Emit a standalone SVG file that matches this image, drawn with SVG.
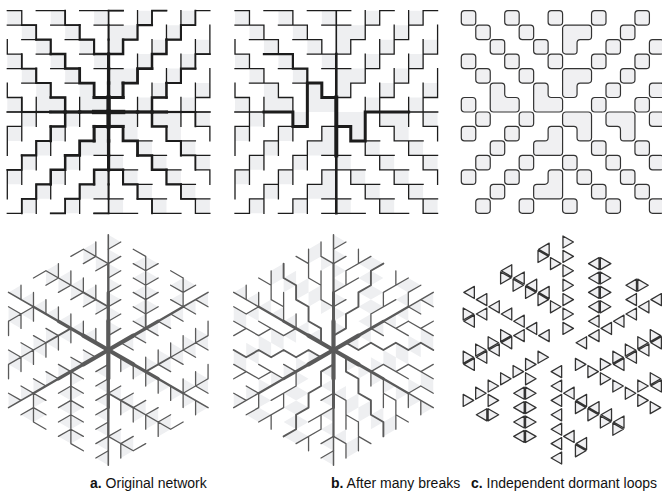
<svg xmlns="http://www.w3.org/2000/svg" width="662" height="495" viewBox="0 0 662 495">
<defs>
<style>
.lbl{font-family:"Liberation Sans",Arial,sans-serif;font-size:14px;fill:#111}
.lbl tspan.b{font-weight:bold}
</style>
<path id="cells" fill="#eeeff1" d="M0 0h1v1h-1zM3 0h1v1h-1zM6 0h1v1h-1zM1 1h1v1h-1zM4 1h1v1h-1zM2 2h1v1h-1zM5 2h1v1h-1zM0 3h1v1h-1zM3 3h1v1h-1zM6 3h1v1h-1zM1 4h1v1h-1zM4 4h1v1h-1zM2 5h1v1h-1zM5 5h1v1h-1zM0 6h1v1h-1zM3 6h1v1h-1zM6 6h1v1h-1zM2 6h1v1h-1zM5 6h1v1h-1zM9 0h1v1h-1zM12 0h1v1h-1zM8 1h1v1h-1zM11 1h1v1h-1zM7 1h1v1h-1zM7 2h1v1h-1zM10 2h1v1h-1zM13 2h1v1h-1zM9 3h1v1h-1zM12 3h1v1h-1zM8 4h1v1h-1zM11 4h1v1h-1zM7 4h1v1h-1zM7 5h1v1h-1zM10 5h1v1h-1zM13 5h1v1h-1zM9 6h1v1h-1zM12 6h1v1h-1zM7 7h1v1h-1zM8 7h1v1h-1zM10 7h1v1h-1zM11 7h1v1h-1zM13 7h1v1h-1zM8 8h1v1h-1zM11 8h1v1h-1zM9 9h1v1h-1zM12 9h1v1h-1zM7 10h1v1h-1zM10 10h1v1h-1zM13 10h1v1h-1zM8 11h1v1h-1zM11 11h1v1h-1zM9 12h1v1h-1zM12 12h1v1h-1zM7 13h1v1h-1zM10 13h1v1h-1zM13 13h1v1h-1zM1 7h1v1h-1zM4 7h1v1h-1zM0 8h1v1h-1zM3 8h1v1h-1zM6 8h1v1h-1zM2 9h1v1h-1zM5 9h1v1h-1zM6 9h1v1h-1zM1 10h1v1h-1zM4 10h1v1h-1zM0 11h1v1h-1zM3 11h1v1h-1zM6 11h1v1h-1zM2 12h1v1h-1zM5 12h1v1h-1zM6 12h1v1h-1zM1 13h1v1h-1zM4 13h1v1h-1z"/>
<path id="base" fill="none" stroke="#1c1c1c" stroke-width="1.3" stroke-linecap="square" vector-effect="non-scaling-stroke" d="M0 0H1M2 0H4M5 0H7M0 1H2M3 1H5M6 1H7M1 2H3M4 2H6M0 3H1M2 3H4M5 3H7M0 4H2M3 4H5M6 4H7M1 5H3M4 5H6M0 6H1M3 6H4M6 6H7M0 2V3M0 5V6M1 0V1M1 3V4M1 6V7M2 1V2M2 4V5M2 6V7M3 2V3M3 5V6M4 0V1M4 3V4M4 6V7M5 1V2M5 4V5M5 6V7M6 2V3M6 5V6M7 0H8M10 0H11M13 0H14M7 1H8M9 1H10M12 1H13M8 2H9M11 2H12M7 3H8M10 3H11M13 3H14M7 4H8M9 4H10M12 4H13M8 5H9M11 5H12M7 6H8M10 6H11M13 6H14M8 2V3M8 5V6M9 0V2M9 3V5M9 6V7M10 0V1M10 2V4M10 5V7M11 1V3M11 4V6M12 0V2M12 3V5M12 6V7M13 0V1M13 2V4M13 5V7M14 1V3M14 4V6M7 8H8M10 8H11M13 8H14M8 9H10M11 9H13M7 10H8M9 10H11M12 10H14M7 11H9M10 11H12M13 11H14M8 12H10M11 12H13M7 13H8M9 13H11M12 13H14M7 14H9M10 14H12M13 14H14M8 8V9M8 11V12M9 7V8M9 9V10M9 12V13M10 7V8M10 10V11M10 13V14M11 8V9M11 11V12M12 7V8M12 9V10M12 12V13M13 7V8M13 10V11M13 13V14M14 8V9M14 11V12M0 8H1M3 8H4M6 8H7M2 9H3M5 9H6M1 10H2M4 10H5M6 10H7M0 11H1M3 11H4M6 11H7M2 12H3M5 12H6M1 13H2M4 13H5M6 13H7M0 14H1M3 14H4M6 14H7M0 8V10M0 11V13M1 7V9M1 10V12M1 13V14M2 7V8M2 9V11M2 12V14M3 8V10M3 11V13M4 7V9M4 10V12M4 13V14M5 7V8M5 9V11M5 12V14M6 8V9M6 11V12"/>
<g id="ov" fill="none" stroke="#1c1c1c" stroke-linecap="square">
<path vector-effect="non-scaling-stroke" stroke-width="1.7" d="M1 1H2V2M4 0V1H5M1 3V4H2M1 6V7"/>
<path vector-effect="non-scaling-stroke" stroke-width="2.1" d="M2 2H3V3M5 1V2H6V3M2 4V5H3V6"/>
<path vector-effect="non-scaling-stroke" stroke-width="2.5" d="M3 3H4V4H5M6 3H7M3 6H4V7"/>
<path vector-effect="non-scaling-stroke" stroke-width="2.8" d="M5 4V5H6V6"/>
<path vector-effect="non-scaling-stroke" stroke-width="3.1" d="M6 6H7"/>
</g>
<g id="hax" fill="none" stroke="#1c1c1c" stroke-linecap="square">
<path vector-effect="non-scaling-stroke" stroke-width="1.7" d="M7 0V1"/>
<path vector-effect="non-scaling-stroke" stroke-width="2.1" d="M7 1V2"/>
<path vector-effect="non-scaling-stroke" stroke-width="2.2" d="M7 2V3"/>
<path vector-effect="non-scaling-stroke" stroke-width="3.2" d="M7 3V4"/>
<path vector-effect="non-scaling-stroke" stroke-width="3.3" d="M7 4V5"/>
<path vector-effect="non-scaling-stroke" stroke-width="3.4" d="M7 5V6"/>
<path vector-effect="non-scaling-stroke" stroke-width="4.4" d="M7 6V7"/>
</g>
<rect id="q" width="1" height="1" rx="0.22" fill="#f0f0f2" stroke="#333" stroke-width="1.2" vector-effect="non-scaling-stroke"/>

<path id="triA" d="M0 1L1 1L0 2ZM0 2L1 2L0 3ZM0 3L1 3L0 4ZM0 4L1 4L0 5ZM0 5L1 5L0 6ZM0 6L1 6L0 7ZM0 7L1 7L0 8ZM3 1L4 1L3 2ZM3 2L4 2L3 3ZM3 3L4 3L3 4ZM3 4L4 4L3 5ZM6 1L7 1L6 2ZM3 0L2 1L3 1ZM3 1L2 2L3 2ZM3 2L2 3L3 3ZM3 3L2 4L3 4ZM3 4L2 5L3 5ZM6 0L5 1L6 1ZM6 1L5 2L6 2Z"/>
<path id="triCd" vector-effect="non-scaling-stroke" d="M.053 1.053L.893 1.053L.053 1.893ZM.053 2.053L.893 2.053L.053 2.893ZM.053 3.053L.893 3.053L.053 3.893ZM.053 4.053L.893 4.053L.053 4.893ZM.053 5.053L.893 5.053L.053 5.893ZM.053 6.053L.893 6.053L.053 6.893ZM.053 7.053L.893 7.053L.053 7.893ZM3.053 1.053L3.893 1.053L3.053 1.893ZM3.053 2.053L3.893 2.053L3.053 2.893ZM3.053 3.053L3.893 3.053L3.053 3.893ZM3.053 4.053L3.893 4.053L3.053 4.893ZM6.053 1.053L6.893 1.053L6.053 1.893ZM2.947 .107L2.107 .947L2.947 .947ZM2.947 1.107L2.107 1.947L2.947 1.947ZM2.947 2.107L2.107 2.947L2.947 2.947ZM2.947 3.107L2.107 3.947L2.947 3.947ZM2.947 4.107L2.107 4.947L2.947 4.947ZM5.947 .107L5.107 .947L5.947 .947ZM5.947 1.107L5.107 1.947L5.947 1.947Z"/>
<g id="hT"><g transform="matrix(12.47 -7.2 0 -14.4 0 0)"><use href="#triA" fill="#eeeff1"/></g></g>
<g id="hLa" fill="none" stroke="#5a5a5a" stroke-linecap="round"><g transform="matrix(12.47 -7.2 0 -14.4 0 0)">
<path vector-effect="non-scaling-stroke" stroke-width="1.3" d="M0 1H1M0 2H1M0 3H1M0 4H1M0 5H1M0 6H1M0 7H1M3 0L2 1M3 1L2 2M3 2L2 3M3 3L2 4M3 4L2 5M3 5L2 6M3 2V5M3 1H4M3 2H4M3 3H4M3 4H4M6 0L5 1M6 1L5 2M6 2L5 3M6 0V2M6 1H7"/>
<path vector-effect="non-scaling-stroke" stroke-width="1.8" d="M3 0V2"/>
<path vector-effect="non-scaling-stroke" stroke-width="4.2" d="M0 0H2"/>
<path vector-effect="non-scaling-stroke" stroke-width="3.3" d="M2 0H4"/>
<path vector-effect="non-scaling-stroke" stroke-width="2.4" d="M4 0H6"/>
<path vector-effect="non-scaling-stroke" stroke-width="1.6" d="M6 0H8"/>
</g></g>
<g id="hLb" fill="none" stroke="#5a5a5a" stroke-linecap="round" stroke-linejoin="round"><g transform="matrix(12.47 -7.2 0 -14.4 0 0)">
<path vector-effect="non-scaling-stroke" stroke-width="1.3" d="M3 1H5M6 1H7M4 2H6M0 3H1M0 4H2M1 5H3M0 6H1M0 7H1M1 4V5M2 5V6M3 0V1M4 1V2M5 2V3M6 0V1"/>
<path vector-effect="non-scaling-stroke" stroke-width="1.9" d="M4 4H3V3H2V2H1V1H0"/>
<path vector-effect="non-scaling-stroke" stroke-width="4.2" d="M0 0H2"/>
<path vector-effect="non-scaling-stroke" stroke-width="3" d="M2 0H4"/>
<path vector-effect="non-scaling-stroke" stroke-width="2.2" d="M4 0H6"/>
<path vector-effect="non-scaling-stroke" stroke-width="1.5" d="M6 0H8"/>
</g></g>
<g id="hC"><g transform="matrix(12.47 -7.2 0 -14.4 0 0)">
<use href="#triCd" fill="#f0f0f2" stroke="#333" stroke-width="1.3" stroke-linejoin="round"/>
</g></g>
</defs>

<g id="panel-a-square" transform="translate(7.3 10.7) scale(14.47)">
<use href="#cells"/>
<g id="connectors-a-square">
<use href="#base"/>
<use href="#ov"/>
<use href="#ov" transform="translate(0 -1) rotate(90 7 7)"/>
<use href="#ov" transform="rotate(180 7 7)"/>
<use href="#ov" transform="translate(0 1) rotate(270 7 7)"/>
<g fill="none" stroke="#1c1c1c" stroke-linecap="square">
<path vector-effect="non-scaling-stroke" stroke-width="3.1" d="M8 6H7M6 8H7"/>
<path vector-effect="non-scaling-stroke" stroke-width="2.5" d="M11 6H10V7M3 8H4V7"/>
</g>
<use href="#hax"/>
<use href="#hax" transform="rotate(90 7 7)"/>
<use href="#hax" transform="rotate(180 7 7)"/>
<use href="#hax" transform="rotate(270 7 7)"/>
</g>
</g>

<g id="panel-b-square" transform="translate(235 10.7) scale(14.47)">
<use href="#cells"/>
<g id="connectors-b-square" fill="none" stroke="#1c1c1c" stroke-linecap="square">
<use href="#base"/>
<path vector-effect="non-scaling-stroke" stroke-width="2.2" d="M2 3H4V4H5V5"/>
<path vector-effect="non-scaling-stroke" stroke-width="3" d="M5 5H6V6H7M2 7H4V8H5V5M7 8H8V9H9V7H12"/>
<path vector-effect="non-scaling-stroke" stroke-width="1.6" d="M7 0V3M0 7H2M12 7H14"/>
<path vector-effect="non-scaling-stroke" stroke-width="2.6" d="M7 3V6M7 10V14"/>
<path vector-effect="non-scaling-stroke" stroke-width="4" d="M7 6V10"/>
</g>
</g>

<g id="panel-c-square" transform="translate(461.3 10.7) scale(14.47)">
<g id="loops-c-square">
<use href="#q" x="0" y="0"/><use href="#q" x="3" y="0"/><use href="#q" x="6" y="0"/><use href="#q" x="1" y="1"/><use href="#q" x="4" y="1"/><use href="#q" x="2" y="2"/><use href="#q" x="5" y="2"/><use href="#q" x="0" y="3"/><use href="#q" x="3" y="3"/><use href="#q" x="6" y="3"/><use href="#q" x="1" y="4"/><use href="#q" x="4" y="4"/><use href="#q" x="0" y="6"/>
<use href="#q" x="9" y="0"/><use href="#q" x="12" y="0"/><use href="#q" x="11" y="1"/><use href="#q" x="10" y="2"/><use href="#q" x="13" y="2"/><use href="#q" x="9" y="3"/><use href="#q" x="12" y="3"/><use href="#q" x="11" y="4"/><use href="#q" x="10" y="5"/><use href="#q" x="13" y="5"/><use href="#q" x="9" y="6"/><use href="#q" x="12" y="6"/>
<use href="#q" x="13" y="7"/><use href="#q" x="9" y="9"/><use href="#q" x="12" y="9"/><use href="#q" x="7" y="10"/><use href="#q" x="10" y="10"/><use href="#q" x="13" y="10"/><use href="#q" x="8" y="11"/><use href="#q" x="11" y="11"/><use href="#q" x="9" y="12"/><use href="#q" x="12" y="12"/><use href="#q" x="7" y="13"/><use href="#q" x="10" y="13"/><use href="#q" x="13" y="13"/>
<use href="#q" x="1" y="7"/><use href="#q" x="4" y="7"/><use href="#q" x="0" y="8"/><use href="#q" x="3" y="8"/><use href="#q" x="2" y="9"/><use href="#q" x="1" y="10"/><use href="#q" x="4" y="10"/><use href="#q" x="0" y="11"/><use href="#q" x="3" y="11"/><use href="#q" x="2" y="12"/><use href="#q" x="1" y="13"/><use href="#q" x="4" y="13"/>
<path fill="#f0f0f2" stroke="#333" stroke-width="1.2" vector-effect="non-scaling-stroke" d="M2.22 5H2.78A.22 .22 0 0 1 3 5.22V5.78A.22 .22 0 0 0 3.22 6H3.78A.22 .22 0 0 1 4 6.22V6.78A.22 .22 0 0 1 3.78 7H2.22A.22 .22 0 0 1 2 6.78V5.22A.22 .22 0 0 1 2.22 5ZM5.22 5H5.78A.22 .22 0 0 1 6 5.22V5.78A.22 .22 0 0 0 6.22 6H6.78A.22 .22 0 0 1 7 6.22V6.78A.22 .22 0 0 1 6.78 7H5.22A.22 .22 0 0 1 5 6.78V5.22A.22 .22 0 0 1 5.22 5ZM7.22 1H8.78A.22 .22 0 0 1 9 1.22V1.78A.22 .22 0 0 1 8.78 2H8.22A.22 .22 0 0 0 8 2.22V2.78A.22 .22 0 0 1 7.78 3H7.22A.22 .22 0 0 1 7 2.78V1.22A.22 .22 0 0 1 7.22 1ZM7.22 4H8.78A.22 .22 0 0 1 9 4.22V4.78A.22 .22 0 0 1 8.78 5H8.22A.22 .22 0 0 0 8 5.22V5.78A.22 .22 0 0 1 7.78 6H7.22A.22 .22 0 0 1 7 5.78V4.22A.22 .22 0 0 1 7.22 4ZM7.22 7H8.78A.22 .22 0 0 1 9 7.22V8.78A.22 .22 0 0 1 8.78 9H8.22A.22 .22 0 0 1 8 8.78V8.22A.22 .22 0 0 0 7.78 8H7.22A.22 .22 0 0 1 7 7.78V7.22A.22 .22 0 0 1 7.22 7ZM10.22 7H11.78A.22 .22 0 0 1 12 7.22V8.78A.22 .22 0 0 1 11.78 9H11.22A.22 .22 0 0 1 11 8.78V8.22A.22 .22 0 0 0 10.78 8H10.22A.22 .22 0 0 1 10 7.78V7.22A.22 .22 0 0 1 10.22 7ZM6.22 8H6.78A.22 .22 0 0 1 7 8.22V9.78A.22 .22 0 0 1 6.78 10H5.22A.22 .22 0 0 1 5 9.78V9.22A.22 .22 0 0 1 5.22 9H5.78A.22 .22 0 0 0 6 8.78V8.22A.22 .22 0 0 1 6.22 8ZM6.22 11H6.78A.22 .22 0 0 1 7 11.22V12.78A.22 .22 0 0 1 6.78 13H5.22A.22 .22 0 0 1 5 12.78V12.22A.22 .22 0 0 1 5.22 12H5.78A.22 .22 0 0 0 6 11.78V11.22A.22 .22 0 0 1 6.22 11Z"/>
</g>
</g>

<g id="panel-a-hex" transform="translate(108.3 350)">
<use href="#hT"/><use href="#hT" transform="rotate(-60)"/><use href="#hT" transform="rotate(-120)"/><use href="#hT" transform="rotate(-180)"/><use href="#hT" transform="rotate(-240)"/><use href="#hT" transform="rotate(-300)"/>
<g id="connectors-a-hex">
<use href="#hLa"/><use href="#hLa" transform="rotate(-60)"/><use href="#hLa" transform="rotate(-120)"/><use href="#hLa" transform="rotate(-180)"/><use href="#hLa" transform="rotate(-240)"/><use href="#hLa" transform="rotate(-300)"/>
</g>
</g>
<g id="panel-b-hex" transform="translate(333.5 350)">
<use href="#hT"/><use href="#hT" transform="rotate(-60)"/><use href="#hT" transform="rotate(-120)"/><use href="#hT" transform="rotate(-180)"/><use href="#hT" transform="rotate(-240)"/><use href="#hT" transform="rotate(-300)"/>
<g id="connectors-b-hex">
<use href="#hLb"/><use href="#hLb" transform="rotate(-60)"/><use href="#hLb" transform="rotate(-120)"/><use href="#hLb" transform="rotate(-180)"/><use href="#hLb" transform="rotate(-240)"/><use href="#hLb" transform="rotate(-300)"/>
</g>
</g>
<g id="panel-c-hex" transform="translate(562.3 350)">
<use href="#hC"/><use href="#hC" transform="rotate(-60)"/><use href="#hC" transform="rotate(-120)"/><use href="#hC" transform="rotate(-180)"/><use href="#hC" transform="rotate(-240)"/><use href="#hC" transform="rotate(-300)"/>
</g>

<g id="labels">
<text class="lbl" x="90" y="488"><tspan class="b">a.</tspan> Original network</text>
<text class="lbl" x="331" y="488"><tspan class="b">b.</tspan> After many breaks</text>
<text class="lbl" x="471" y="488"><tspan class="b">c.</tspan> Independent dormant loops</text>
</g>
</svg>
